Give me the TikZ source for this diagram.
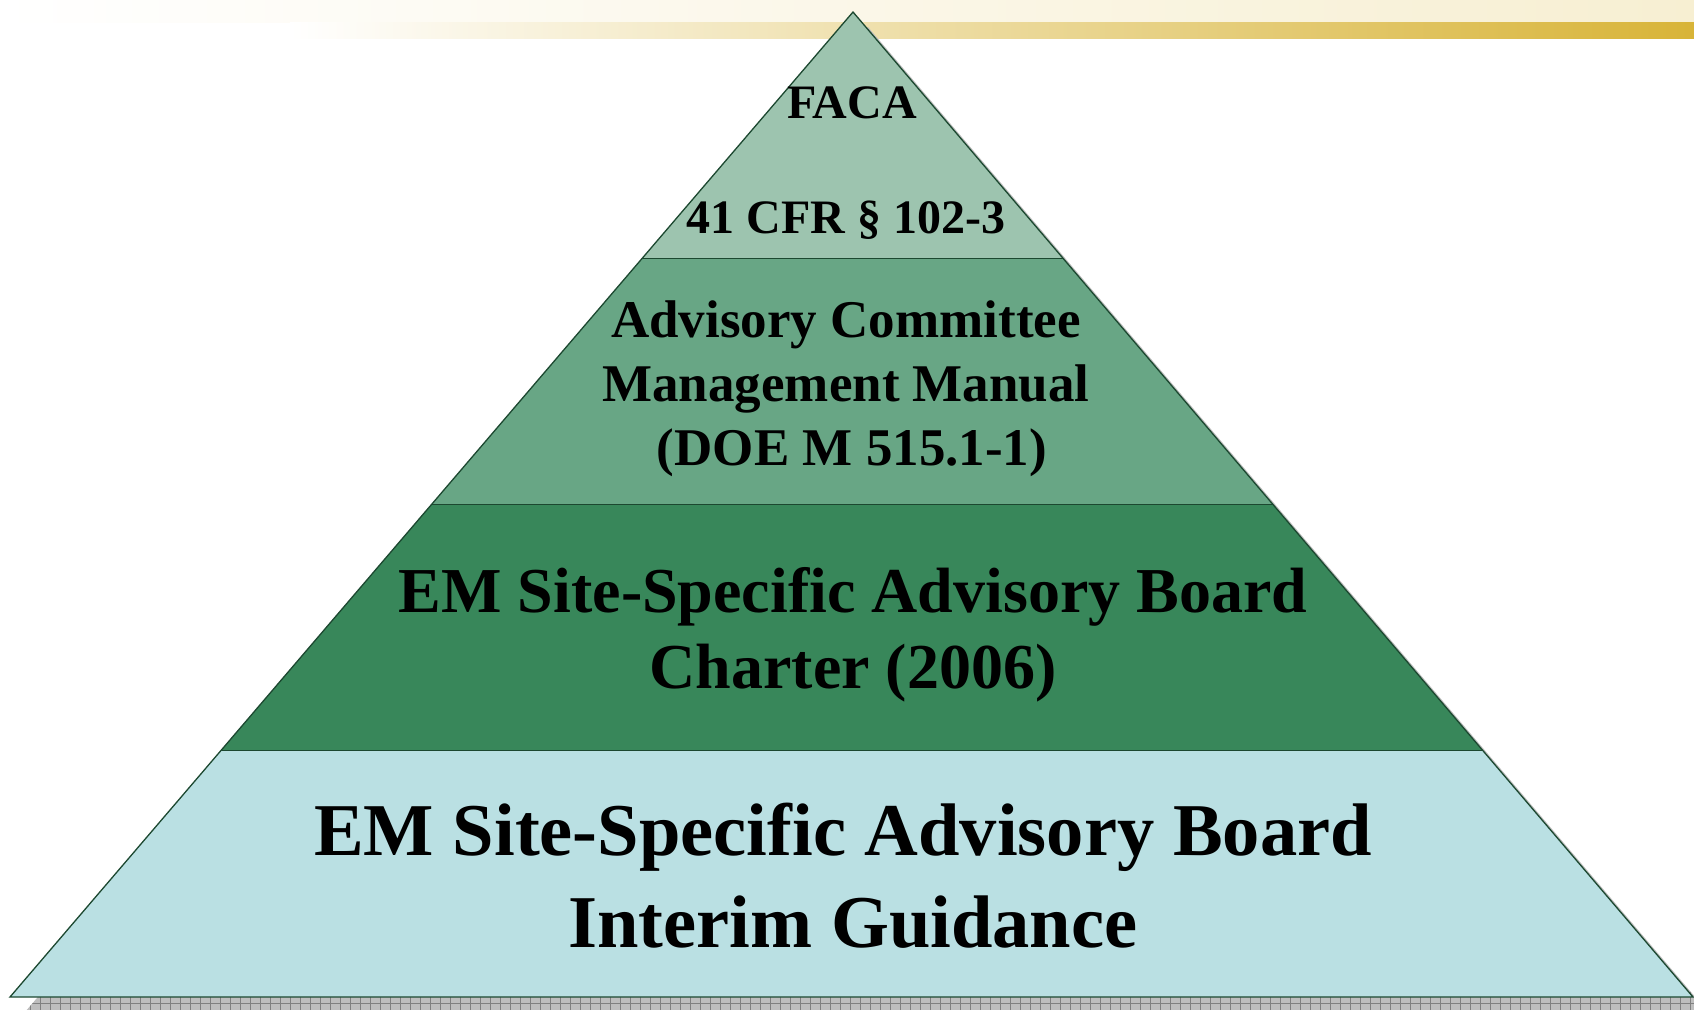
\documentclass[tikz,border=0pt]{standalone}
\usepackage{fontspec}
\setmainfont{Liberation Serif}
\usetikzlibrary{calc}
\definecolor{tierA}{RGB}{157,196,175}
\definecolor{tierB}{RGB}{104,166,133}
\definecolor{tierC}{RGB}{56,135,90}
\definecolor{tierD}{RGB}{186,224,227}
\definecolor{edgegreen}{RGB}{28,72,48}
\definecolor{bandcream}{RGB}{247,239,210}
\definecolor{bandgold}{RGB}{216,180,56}
\definecolor{shadowgray}{RGB}{190,190,190}
\tikzset{
  tieredge/.style={draw=edgegreen,line width=1.3pt},
  tiertext/.style={font=\bfseries,anchor=base,inner sep=0pt}
}
\begin{document}
\begin{tikzpicture}[x=1pt,y=-1pt]
\useasboundingbox (0,0) rectangle (1694,1010);
\clip (0,0) rectangle (1694,1010);
% title bands
\shade[left color=white,right color=bandcream] (0,0) rectangle (1694,22);
\shade[left color=white,right color=bandgold] (290,22) rectangle (1694,38);
% corners of the pyramid
\coordinate (apex) at (853,12);
\coordinate (bl) at (10,997);
\coordinate (br) at (1693,997);
% shadow
\begin{scope}
\clip ([shift={(15,15)}]apex) -- ([shift={(15,15)}]bl) -- ([shift={(15,15)}]br) -- cycle;
\fill[shadowgray] (0,0) rectangle (1694,1010);
\foreach \x in {0,10,...,1690}
  \draw[gray,line width=0.6pt] (\x,990) -- (\x,1010);
\draw[gray,line width=0.6pt] (0,1003) -- (1694,1003);
\end{scope}
% tiers
\foreach \t/\n in {0.25/a,0.5/b,0.75/c}{
  \coordinate (l\n) at ($(apex)!\t!(bl)$);
  \coordinate (r\n) at ($(apex)!\t!(br)$);
}
\fill[tierA] (apex) -- (la) -- (ra) -- cycle;
\fill[tierB] (la) -- (lb) -- (rb) -- (ra) -- cycle;
\fill[tierC] (lb) -- (lc) -- (rc) -- (rb) -- cycle;
\fill[tierD] (lc) -- (bl) -- (br) -- (rc) -- cycle;
\draw[tieredge] (apex) -- (bl) -- (br) -- cycle;
\draw[tieredge] (la) -- (ra);
\draw[tieredge] (lb) -- (rb);
\draw[tieredge] (lc) -- (rc);
% labels
\node[tiertext,font=\bfseries\fontsize{48}{58}\selectfont] (faca) at (852,118) {FACA};
\node[tiertext,font=\bfseries\fontsize{48}{58}\selectfont] (cfr) at (846,233) {41 CFR § 102-3};
\node[tiertext,font=\bfseries\fontsize{53}{64}\selectfont] (acm1) at (846,337) {Advisory Committee};
\node[tiertext,font=\bfseries\fontsize{53}{64}\selectfont] (acm2) at (846,401) {Management Manual};
\node[tiertext,font=\bfseries\fontsize{53}{64}\selectfont] (acm3) at (852,465) {(DOE M 515.1-1)};
\node[tiertext,font=\bfseries\fontsize{64}{76}\selectfont] (chr1) at (853,612) {EM Site-Specific Advisory Board};
\node[tiertext,font=\bfseries\fontsize{64}{76}\selectfont] (chr2) at (853,688) {Charter (2006)};
\node[tiertext,font=\bfseries\fontsize{74.5}{90}\selectfont] (ig1) at (843,855) {EM Site-Specific Advisory Board};
\node[tiertext,font=\bfseries\fontsize{74.5}{90}\selectfont] (ig2) at (853,947) {Interim Guidance};
\end{tikzpicture}
\end{document}
